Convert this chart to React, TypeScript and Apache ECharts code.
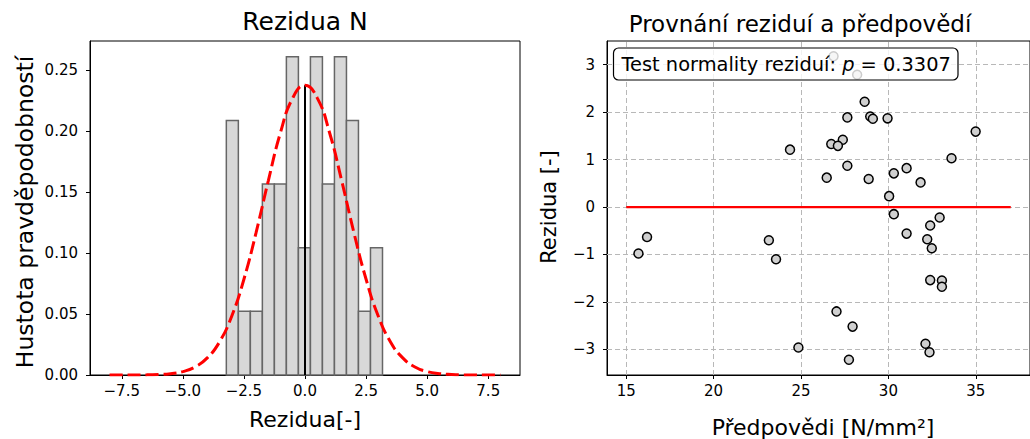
import React, { useEffect, useRef } from "react";
import * as echarts from "echarts";

// Histogram of residuals (density)
const histEdges = [-3.22, -2.728, -2.237, -1.745, -1.253, -0.762, -0.27, 0.222, 0.713, 1.205, 1.697, 2.188, 2.68, 3.172];
const histDensity = [0.2087, 0.0522, 0.0522, 0.1565, 0.1565, 0.2608, 0.1043, 0.2608, 0.1565, 0.2608, 0.2087, 0.0522, 0.1043];

// Fitted normal density curve
const curveX = [-8, -7.5, -7, -6.5, -6, -5.5, -5, -4.5, -4, -3.5, -3, -2.5, -2, -1.5, -1, -0.5, 0, 0.5, 1, 1.5, 2, 2.5, 3, 3.5, 4, 4.5, 5, 5.5, 6, 6.5, 7, 7.5, 8];
const curveY = [0, 0.00001, 0.00004, 0.0001, 0.0004, 0.0011, 0.0028, 0.0066, 0.014, 0.0271, 0.0482, 0.0785, 0.1169, 0.1594, 0.199, 0.2272, 0.2375, 0.2272, 0.199, 0.1594, 0.1169, 0.0785, 0.0482, 0.0271, 0.014, 0.0066, 0.0028, 0.0011, 0.0004, 0.0001, 0.00004, 0.00001, 0];
const meanPeak = 0.2375;

// Predictions vs residuals
const predictions = [15.7, 16.19, 23.16, 23.57, 24.85, 24.37, 26.86, 28.21, 28.64, 27.65, 28.96, 29.11, 29.95, 34.99, 27.39, 26.73, 27.11, 33.61, 27.65, 31.04, 30.31, 26.47, 28.87, 31.84, 30.04, 30.31, 32.93, 32.39, 31.04, 32.22, 32.48, 32.39, 33.06, 33.06, 27.03, 27.95, 27.74, 32.12, 32.35];
const residuals = [-0.98, -0.63, -0.7, -1.1, -2.96, 1.21, 3.18, 2.79, 2.22, 1.89, 1.91, 1.86, 1.87, 1.59, 1.42, 1.33, 1.29, 1.03, 0.87, 0.82, 0.71, 0.62, 0.59, 0.52, 0.23, -0.15, -0.22, -0.39, -0.56, -0.68, -0.87, -1.54, -1.55, -1.68, -2.2, -2.52, -3.22, -2.88, -3.06];
const zeroLineX = [15, 37];

const histXTicks = [-7.5, -5, -2.5, 0, 2.5, 5, 7.5];
const histYTicks = [0, 0.05, 0.1, 0.15, 0.2, 0.25];
const scatXTicks = [15, 20, 25, 30, 35];
const scatYTicks = [-3, -2, -1, 0, 1, 2, 3];

const pValue = "0.3307";

const FONT = "DejaVu Sans";
const minus = (s: string) => s.replace("-", "\u2212");

export default function App() {
  const ref = useRef<HTMLDivElement>(null);
  useEffect(() => {
    if (!ref.current) return;
    const chart = echarts.init(ref.current, null, { renderer: "svg" });
    const axisLine = { show: true, onZero: false, lineStyle: { color: "#000", width: 1 } };
    const axisTick = (vals: number[]) => ({ show: true, inside: false, length: 4, lineStyle: { color: "#000", width: 1 }, customValues: vals });
    const axisLabel = (vals: number[], fmt: (v: number) => string, margin: number) => ({
      show: true, color: "#000", fontSize: 15, fontFamily: FONT, margin, customValues: vals,
      formatter: (v: number) => minus(fmt(v)),
    });
    const gridStyle = { color: "#b8b8b8", type: [5, 3] as any, width: 1 };
    const option: any = {
      animation: false,
      grid: [
        { left: 90, top: 41, width: 430, height: 334, show: true, borderColor: "#000", borderWidth: 1, backgroundColor: "transparent" },
        { left: 607, top: 41, width: 431, height: 334, show: true, borderColor: "#000", borderWidth: 1, backgroundColor: "transparent" },
      ],
      xAxis: [
        { type: "value", gridIndex: 0, min: -8.8, max: 8.8, axisLine, axisTick: axisTick(histXTicks), axisLabel: axisLabel(histXTicks, (v) => v.toFixed(1), 8), splitLine: { show: false } },
        { type: "value", gridIndex: 1, min: 13.9, max: 38.1, axisLine, axisTick: axisTick(scatXTicks), axisLabel: axisLabel(scatXTicks, (v) => String(v), 8), splitLine: { show: false } },
      ],
      yAxis: [
        { type: "value", gridIndex: 0, min: 0, max: 0.2738, axisLine, axisTick: axisTick(histYTicks), axisLabel: axisLabel(histYTicks, (v) => v.toFixed(2), 12), splitLine: { show: false } },
        { type: "value", gridIndex: 1, min: -3.54, max: 3.5, axisLine, axisTick: axisTick(scatYTicks), axisLabel: axisLabel(scatYTicks, (v) => String(v), 12), splitLine: { show: false } },
      ],
      series: [
        {
          type: "custom", xAxisIndex: 0, yAxisIndex: 0, z: 2,
          data: histDensity.map((d, i) => [histEdges[i], histEdges[i + 1], d]),
          renderItem: (params: any, api: any) => {
            const p0 = api.coord([api.value(0), 0]);
            const p1 = api.coord([api.value(1), api.value(2)]);
            return {
              type: "rect",
              shape: { x: p0[0], y: p1[1], width: p1[0] - p0[0], height: p0[1] - p1[1] },
              style: { fill: "#d8d8d8", stroke: "#666666", lineWidth: 1.5 },
            };
          },
        },
        {
          type: "line", xAxisIndex: 0, yAxisIndex: 0, z: 3, symbol: "none",
          data: [[0, 0], [0, meanPeak]],
          lineStyle: { color: "#000", width: 2 },
        },
        {
          type: "line", xAxisIndex: 0, yAxisIndex: 0, z: 4, symbol: "none", smooth: true,
          data: curveX.map((x, i) => [x, curveY[i]]),
          lineStyle: { color: "#ff0000", width: 3, type: [13, 5] },
        },
        {
          type: "line", xAxisIndex: 1, yAxisIndex: 1, z: 1, symbol: "none", data: [], silent: true,
          markLine: {
            silent: true, symbol: "none", label: { show: false }, animation: false, z: 1,
            lineStyle: gridStyle,
            emphasis: { disabled: true },
            data: [
              ...scatXTicks.map((v) => ({ xAxis: v })),
              ...scatYTicks.map((v) => ({ yAxis: v })),
            ],
          },
        },
        {
          type: "line", xAxisIndex: 1, yAxisIndex: 1, z: 6, symbol: "none",
          data: zeroLineX.map((x) => [x, 0]),
          lineStyle: { color: "#ff0000", width: 2.2 },
        },
        {
          type: "scatter", xAxisIndex: 1, yAxisIndex: 1, z: 7,
          symbol: "circle", symbolSize: 9,
          data: predictions.map((x, i) => [x, residuals[i]]),
          itemStyle: { color: "#d0d0d0", borderColor: "#000", borderWidth: 1.5, opacity: 1 },
        },
      ],
      graphic: [
        { type: "text", x: 305, y: 21, z: 100, style: { text: "Rezidua N", font: `25px '${FONT}'`, fill: "#000", textAlign: "center", textVerticalAlign: "middle" } },
        { type: "text", x: 800, y: 23.5, z: 100, style: { text: "Provnání reziduí a předpovědí", font: `23px '${FONT}'`, fill: "#000", textAlign: "center", textVerticalAlign: "middle" } },
        { type: "text", x: 305, y: 419, z: 100, style: { text: "Rezidua[-]", font: `22px '${FONT}'`, fill: "#000", textAlign: "center", textVerticalAlign: "middle" } },
        { type: "text", x: 823, y: 427, z: 100, style: { text: "Předpovědi [N/mm²]", font: `22px '${FONT}'`, fill: "#000", textAlign: "center", textVerticalAlign: "middle" } },
        { type: "text", x: 24.5, y: 212, rotation: Math.PI / 2, z: 100, style: { text: "Hustota pravděpodobností", font: `23.5px '${FONT}'`, fill: "#000", textAlign: "center", textVerticalAlign: "middle" } },
        { type: "text", x: 549, y: 207, rotation: Math.PI / 2, z: 100, style: { text: "Rezidua [-]", font: `21px '${FONT}'`, fill: "#000", textAlign: "center", textVerticalAlign: "middle" } },
        { type: "rect", z: 100, shape: { x: 613.5, y: 48, width: 344.5, height: 32, r: 5 }, style: { fill: "rgba(255,255,255,0.8)", stroke: "#000", lineWidth: 1.2 } },
        {
          type: "text", x: 621.5, y: 64.5, z: 101,
          style: {
            text: "{n|Test normality reziduí: }{i|p}{n| = " + pValue + "}",
            textVerticalAlign: "middle", textAlign: "left",
            rich: {
              n: { fontFamily: FONT, fontSize: 19.4, fill: "#000" },
              i: { fontFamily: FONT, fontSize: 19.4, fontStyle: "italic", fill: "#000" },
            },
          },
        },
      ],
    };
    chart.setOption(option);
    return () => chart.dispose();
  }, []);
  return <div ref={ref} style={{ position: "fixed", left: 0, top: 0, width: 1030, height: 439, background: "#fff" }} />;
}
